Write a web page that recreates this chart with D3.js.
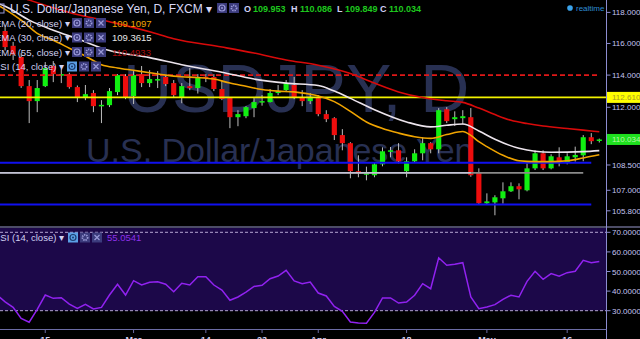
<!DOCTYPE html>
<html>
<head>
<meta charset="utf-8">
<script src="https://cdn.jsdelivr.net/npm/d3@7"></script>
<style>
  body { margin: 0; background: #000; overflow: hidden; }
  svg { display: block; font-family: "Liberation Sans", Arial, sans-serif; }
</style>
</head>
<body>
<svg id="chart" width="640" height="339"></svg>
<script>
// ---- data (USD/JPY daily, FXCM) ----
const firstDay = new Date(2016, 1, 8), lastDay = new Date(2016, 4, 20)
const open  = [116.80,115.85,115.14,113.31,112.38,113.31,114.57,114.00,114.06,113.25,112.57,112.88,112.10,112.13,112.94,113.94,112.69,114.06,113.50,113.70,113.88,113.50,112.63,113.31,113.19,113.90,113.88,113.13,112.57,111.39,111.45,111.95,112.35,112.32,112.88,113.06,113.38,112.63,112.38,112.57,111.58,111.33,110.30,109.81,108.13,107.95,107.89,108.54,109.32,109.38,108.13,108.72,109.20,109.81,109.44,111.88,111.27,111.33,111.39,108.07,106.24,106.29,106.53,106.94,107.24,107.00,108.30,109.20,108.30,108.96,108.66,108.96,109.08,110.17,109.953]
const high  = [117.10,116.10,115.40,113.69,113.69,114.82,114.88,114.40,114.15,113.35,113.38,113.06,112.44,113.19,114.06,114.06,114.25,114.57,114.31,114.25,114.00,113.69,113.50,114.44,114.06,114.06,114.06,113.69,112.63,111.82,112.07,112.63,112.75,113.13,113.38,113.69,113.88,113.06,112.88,112.75,111.82,111.39,110.66,109.87,109.08,108.40,108.66,109.56,109.58,109.81,108.96,109.44,110.17,109.87,111.95,112.01,111.75,111.82,111.95,108.30,106.82,106.71,107.47,107.47,107.41,108.60,109.38,109.38,109.14,109.56,109.20,109.60,110.30,110.42,110.086]
const low   = [115.55,114.95,113.20,111.03,111.70,113.25,113.56,113.50,113.15,112.32,112.44,111.70,111.03,112.01,112.75,112.50,112.20,113.25,113.25,113.19,113.31,112.57,112.25,113.06,112.85,113.56,113.00,112.44,110.72,110.84,111.33,111.39,112.10,112.30,112.75,112.94,112.50,112.07,112.20,111.45,111.09,110.00,109.38,107.71,107.77,107.59,107.77,108.42,108.96,108.60,107.77,108.66,108.78,109.20,109.20,111.03,110.85,110.95,107.80,106.20,106.15,105.54,106.22,106.90,106.47,106.94,108.20,108.20,108.24,108.42,108.54,108.70,108.72,109.75,109.849]
const close = [115.77,115.30,113.31,112.38,113.19,114.44,114.06,114.06,113.25,112.57,112.81,112.07,112.15,113.00,114.00,112.63,114.00,113.50,113.75,113.75,113.44,112.75,113.31,113.19,113.88,113.80,113.13,112.51,111.39,111.58,112.01,112.32,112.38,112.88,113.00,113.50,112.63,112.38,112.57,111.58,111.27,110.30,109.81,108.13,108.01,108.01,108.54,109.32,109.38,108.72,108.72,109.20,109.81,109.44,111.82,111.15,111.39,111.45,107.89,106.24,106.35,106.59,106.94,107.24,107.06,108.30,109.20,108.30,109.02,108.72,109.02,109.10,110.17,109.93,110.034]

// moving averages: [day index, value]
const ema20 = [[-1,118.5],[0,118.2],[2,117.5],[4,116.65],[6,116.2],[8,115.7],[10,115.2],[12,114.65],[14,114.45],[16,114.3],[18,114.15],[20,114.0],[22,113.9],[24,113.85],[26,113.75],[28,113.5],[30,113.3],[32,113.1],[34,113.0],[36,112.95],[38,112.8],[39,112.7],[41,112.35],[43,111.75],[45,111.1],[47,110.7],[49,110.42],[51,110.2],[53,110.1],[55,110.33],[57,110.52],[58,110.28],[59,109.9],[60,109.6],[62,109.08],[64,108.75],[66,108.7],[68,108.7],[70,108.75],[72,108.92],[74,109.11]]
const ema30 = [[-1,118.6],[0,118.4],[3,117.5],[6,116.85],[9,116.3],[13,115.55],[18,115.1],[22,114.65],[27,114.18],[31,113.75],[35,113.5],[39,113.35],[41,113.0],[43,112.55],[46,111.85],[50,111.1],[53,110.8],[55,110.9],[57,110.97],[59,110.55],[61,110.05],[64,109.5],[68,109.26],[72,109.3],[74,109.36]]
const ema55 = [[-1,119.6],[3,118.8],[8,118.0],[13,117.4],[18,116.75],[21,116.3],[27,115.77],[31,115.39],[35,114.95],[39,114.62],[43,114.1],[46,113.5],[49,112.95],[52,112.6],[55,112.4],[57,112.3],[59,111.95],[61,111.55],[63,111.2],[65,111.0],[67,110.85],[70,110.7],[72,110.6],[74,110.5]]

// RSI(14); first value is the day before the first candle
const rsi = [38.0,34.5,31.7,26.1,24.1,30.7,38.0,36.3,36.6,33.4,31.2,33.3,30.9,31.7,38.0,43.5,38.0,45.3,43.1,44.5,44.8,43.5,39.7,44.0,43.1,47.3,47.3,43.1,40.5,35.3,37.0,39.5,42.4,43.0,46.3,47.7,50.6,45.2,43.8,44.6,39.0,37.5,32.2,29.7,24.2,23.7,23.6,29.1,36.5,36.5,33.9,34.4,37.9,43.8,41.2,57.0,53.2,53.7,54.5,37.0,31.0,31.9,33.1,35.8,37.9,37.0,45.0,50.1,46.0,48.9,47.6,49.4,50.1,55.7,54.5,55.0541]

// drawn levels
const levelPrices = [114.0, 112.61, 108.63, 108.03, 108.03, 106.16]
const levelEnds   = ["2016-05-20", null, "2016-05-19", "2016-05-18", "2016-04-28", "2016-05-19"]

const tickDates  = ["2016-02-15","2016-03-01","2016-03-14","2016-03-23","2016-04-01","2016-04-18","2016-05-02","2016-05-16"]
const tickLabels = ["15","Mar","14","23","Apr","18","May","16"]
const priceTicks = [118, 116, 114, 112, 108.5, 107, 105.8]
const rsiTicks   = [70, 60, 50, 40, 30]

const legendNames  = ["EMA (20, close)", "EMA (30, close)", "EMA (55, close)", "RSI (14, close)"]
const legendValues = ["109.1097", "109.3615", "110.4933", ""]
const ohlcLabels = ["O", "H", "L", "C"]

// ---- layout ----
const W = 640, H = 339
const axisX = 606.5
const mainTop = 0, mainBottom = 226
const rsiTop = 228, axisY = 329.5
const svg = d3.select("#chart")
const fmtDay = d3.timeFormat("%Y-%m-%d")

const days = d3.timeDay.range(firstDay, d3.timeDay.offset(lastDay, 1)).filter(d => d.getDay() % 6 !== 0)
const dayIndex = s => days.findIndex(d => fmtDay(d) === s)

const x = d3.scaleLinear().domain([0, days.length - 1]).range([5.1, 599.3])
const y = d3.scaleLog().domain([105.8, 118]).range([210.8, 12.4])
const yR = d3.scaleLinear().domain([30, 70]).range([310.7, 232.3])
const step = x(1) - x(0)

svg.append("rect").attr("width", W).attr("height", H).attr("fill", "#000")

const defs = svg.append("defs")
defs.append("clipPath").attr("id", "clipMain").append("rect").attr("x", 0).attr("y", mainTop).attr("width", axisX).attr("height", mainBottom - mainTop)
defs.append("clipPath").attr("id", "clipRsi").append("rect").attr("x", 0).attr("y", rsiTop).attr("width", axisX).attr("height", axisY - rsiTop)

// ---- main pane ----
const main = svg.append("g").attr("clip-path", "url(#clipMain)")

// watermark
main.append("text").attr("x", 123).attr("y", 112).attr("font-size", 68).attr("fill", "#283052").text("USDJPY, D")
main.append("text").attr("x", 86).attr("y", 162).attr("font-size", 34).attr("fill", "#283052").text("U.S. Dollar/Japanese Yen")

// candles
const candles = main.append("g")
const idx = d3.range(open.length)
candles.selectAll(".wick").data(idx).join("line").attr("class", "wick")
  .attr("x1", i => x(i)).attr("x2", i => x(i))
  .attr("y1", i => y(high[i])).attr("y2", i => y(low[i]))
  .attr("stroke", "#bdbdbd").attr("stroke-width", 1)
candles.selectAll(".body").data(idx).join("rect").attr("class", "body")
  .attr("x", i => x(i) - step * 0.32).attr("width", step * 0.64)
  .attr("y", i => y(Math.max(open[i], close[i])))
  .attr("height", i => Math.max(1.5, Math.abs(y(open[i]) - y(close[i]))))
  .attr("fill", i => close[i] >= open[i] ? "#11f011" : "#ee0d0d")

// levels
const levelStyle = [
  { stroke: "#e01818", width: 1.6, dash: "5,3" },
  { stroke: "#f2f200", width: 1.6, dash: null },
  { stroke: "#1010f0", width: 2, dash: null },
  { stroke: "#8a8a8a", width: 1.6, dash: null },
  { stroke: "#d4d4ec", width: 1.4, dash: null },
  { stroke: "#1010f0", width: 2, dash: null }
]
levelPrices.forEach((p, k) => {
  const s = levelStyle[k]
  const xe = levelEnds[k] ? x(dayIndex(levelEnds[k])) : axisX
  main.append("line").attr("x1", 0).attr("x2", xe).attr("y1", y(p)).attr("y2", y(p))
    .attr("stroke", s.stroke).attr("stroke-width", s.width).attr("stroke-dasharray", s.dash)
})

// EMAs
const emaLine = d3.line().x(d => x(d[0])).y(d => y(d[1])).curve(d3.curveMonotoneX)
main.append("path").datum(ema55).attr("d", emaLine).attr("fill", "none").attr("stroke", "#d80a0a").attr("stroke-width", 1.6)
main.append("path").datum(ema30).attr("d", emaLine).attr("fill", "none").attr("stroke", "#ece4ec").attr("stroke-width", 1.6)
main.append("path").datum(ema20).attr("d", emaLine).attr("fill", "none").attr("stroke", "#f0a400").attr("stroke-width", 1.6)

// ---- separator ----
svg.append("rect").attr("x", 0).attr("y", mainBottom).attr("width", W).attr("height", 2).attr("fill", "#4c4c66")

// ---- RSI pane ----
const rp = svg.append("g").attr("clip-path", "url(#clipRsi)")
rp.append("rect").attr("x", 0).attr("y", rsiTop).attr("width", axisX).attr("height", yR(30) - rsiTop).attr("fill", "#1c0849")
;[70, 30].forEach(v => {
  rp.append("line").attr("x1", 0).attr("x2", axisX).attr("y1", yR(v)).attr("y2", yR(v))
    .attr("stroke", "#b4a6d2").attr("stroke-width", 1).attr("stroke-dasharray", "3,2")
})
rp.append("path").datum(rsi)
  .attr("d", d3.line().x((d, k) => x(k - 1)).y(d => yR(d)))
  .attr("fill", "none").attr("stroke", "#9122f0").attr("stroke-width", 1.5)

// ---- axes ----
const axisColor = "#8c8cd0", labelColor = "#c4c4f2"
svg.append("line").attr("x1", axisX).attr("x2", axisX).attr("y1", 0).attr("y2", H).attr("stroke", axisColor)
svg.append("line").attr("x1", 0).attr("x2", axisX).attr("y1", axisY).attr("y2", axisY).attr("stroke", "#6c6ca4")

const pt = svg.append("g")
pt.selectAll("line").data(priceTicks).join("line")
  .attr("x1", axisX).attr("x2", axisX + 4).attr("y1", d => y(d)).attr("y2", d => y(d)).attr("stroke", axisColor)
pt.selectAll("text").data(priceTicks).join("text")
  .attr("x", 612).attr("y", d => y(d) + 3).attr("font-size", 8).attr("fill", labelColor).text(d => d.toFixed(3))

const rt = svg.append("g")
rt.selectAll("line").data(rsiTicks).join("line")
  .attr("x1", axisX).attr("x2", axisX + 4).attr("y1", d => yR(d)).attr("y2", d => yR(d)).attr("stroke", axisColor)
rt.selectAll("text").data(rsiTicks).join("text")
  .attr("x", 612).attr("y", d => yR(d) + 3).attr("font-size", 8).attr("fill", labelColor).text(d => d.toFixed(4))

// price labels on the axis
const tagData = [
  { v: levelPrices[1], fill: "#ffff00", color: "#a89a28" },
  { v: close[close.length - 1], fill: "#1ee01e", color: "#baf5a8" }
]
tagData.forEach(t => {
  svg.append("rect").attr("x", axisX + 0.5).attr("y", y(t.v) - 5.5).attr("width", W - axisX).attr("height", 11).attr("fill", t.fill)
  svg.append("text").attr("x", 612).attr("y", y(t.v) + 3).attr("font-size", 8).attr("fill", t.color).text(t.v.toFixed(3))
})

// time axis
const tt = svg.append("g")
tt.selectAll("line").data(tickDates).join("line")
  .attr("x1", d => x(dayIndex(d))).attr("x2", d => x(dayIndex(d)))
  .attr("y1", axisY).attr("y2", axisY + 3.5).attr("stroke", "#6c6ca4")
tt.selectAll("text").data(tickDates).join("text")
  .attr("x", d => x(dayIndex(d))).attr("y", 343).attr("text-anchor", "middle")
  .attr("font-size", 9).attr("font-weight", "bold").attr("fill", "#d0d0f4")
  .text((d, k) => tickLabels[k])

// ---- header & legends ----
const txt = "#d0d0f2"
function iconBox(g, bx, by, kind, hi) {
  g.append("rect").attr("x", bx).attr("y", by).attr("width", 10).attr("height", 10)
    .attr("fill", hi ? "#5b9fe6" : "#3b3b7c")
  const cx = bx + 5, cy = by + 5, c = hi ? "#1d3d70" : "#9a9ad8"
  if (kind === "eye") {
    g.append("circle").attr("cx", cx).attr("cy", cy).attr("r", 3).attr("fill", "none").attr("stroke", c).attr("stroke-width", 1.2)
    g.append("circle").attr("cx", cx).attr("cy", cy).attr("r", 1).attr("fill", c)
  } else if (kind === "gear") {
    g.append("circle").attr("cx", cx).attr("cy", cy).attr("r", 2.6).attr("fill", "none").attr("stroke", c).attr("stroke-width", 1.8).attr("stroke-dasharray", "1.3,0.9")
  } else {
    g.append("path").attr("d", `M${bx + 2.5},${by + 2.5}L${bx + 7.5},${by + 7.5}M${bx + 7.5},${by + 2.5}L${bx + 2.5},${by + 7.5}`)
      .attr("stroke", c).attr("stroke-width", 1.2)
  }
}

const head = svg.append("g")
head.append("rect").attr("x", -4).attr("y", 4).attr("width", 8).attr("height", 9).attr("fill", "none").attr("stroke", "#9a9ad8")
head.append("text").attr("x", 10).attr("y", 13).attr("font-size", 12).attr("fill", "#d8d8f6").text("U.S. Dollar/Japanese Yen, D, FXCM \u25BE")
iconBox(head, 217, 3, "eye")
iconBox(head, 229, 3, "gear")
const ohlcVals = [open, high, low, close].map(a => a[a.length - 1].toFixed(3))
const ohlcX = [244, 291, 337, 380]
ohlcLabels.forEach((l, k) => {
  head.append("text").attr("x", ohlcX[k]).attr("y", 11.5).attr("font-size", 9).attr("font-weight", "bold").attr("fill", "#d0d0f4").text(l)
  head.append("text").attr("x", ohlcX[k] + (l === "L" ? 8 : 9)).attr("y", 11.5).attr("font-size", 9).attr("font-weight", "bold").attr("fill", "#1ec81e").text(ohlcVals[k])
})

// realtime
head.append("circle").attr("cx", 570).attr("cy", 8).attr("r", 2.8).attr("fill", "#3ba3ea")
head.append("text").attr("x", 576).attr("y", 10.8).attr("font-size", 8).attr("fill", "#2f8fd6").text("realtime")

const legColors = ["#f0a400", "#e6e6e6", "#a80c0c"]
const rowY = [26.5, 41, 55.5, 70]
legendNames.forEach((name, k) => {
  const g = svg.append("g")
  const isRsi = k === 3
  g.append("text").attr("x", isRsi ? -6.5 : -5).attr("y", rowY[k]).attr("font-size", 9.5).attr("fill", txt).text(name + " \u25BE")
  const ix = isRsi ? 67 : 72
  iconBox(g, ix, rowY[k] - 8.5, "eye", isRsi)
  iconBox(g, ix + 12, rowY[k] - 8.5, "gear")
  iconBox(g, ix + 24, rowY[k] - 8.5, "x")
  if (legendValues[k]) g.append("text").attr("x", 112).attr("y", rowY[k]).attr("font-size", 9.5).attr("fill", legColors[k]).text(legendValues[k])
})

// RSI pane legend
const rl = svg.append("g")
rl.append("text").attr("x", -6.5).attr("y", 241).attr("font-size", 9.5).attr("fill", txt).text("RSI (14, close) \u25BE")
iconBox(rl, 68, 232.5, "eye", true)
iconBox(rl, 80, 232.5, "gear")
iconBox(rl, 92, 232.5, "x")
rl.append("text").attr("x", 107).attr("y", 241).attr("font-size", 9.5).attr("fill", "#8e30ea").text(rsi[rsi.length - 1].toFixed(4))
</script>
</body>
</html>
